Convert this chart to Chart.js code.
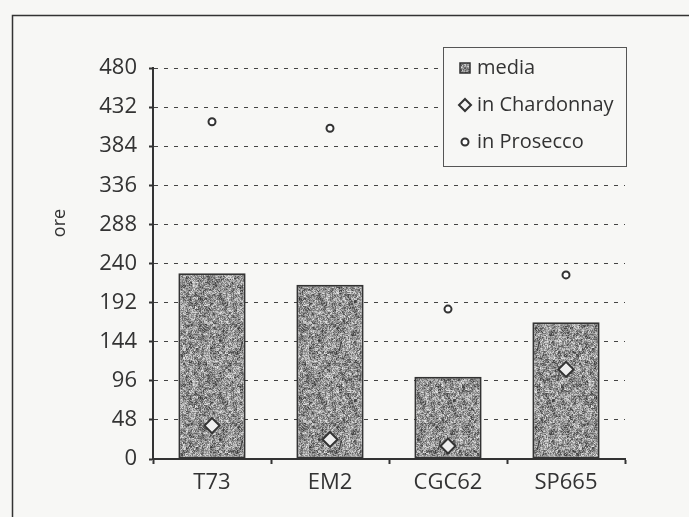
<!DOCTYPE html>
<html>
<head>
<meta charset="utf-8">
<script src="https://cdn.jsdelivr.net/npm/chart.js@4.4.1/dist/chart.umd.min.js"></script>
<style>
html, body { margin: 0; padding: 0; background: #f7f7f5; }
#contenitore { width: 689px; height: 517px; }
</style>
</head>
<body>
<div id="contenitore"><canvas id="graficoOre" width="689" height="517"></canvas></div>
<script>
// dati
const categorie = ['T73', 'EM2', 'CGC62', 'SP665'];
const media = [228, 214, 101, 168];
const inChardonnay = [41, 24, 16, 110];
const inProsecco = [414, 406, 184, 226];
const tickOre = [0, 48, 96, 144, 192, 240, 288, 336, 384, 432, 480];

const scuro = '#333';
const sfondo = '#f7f7f5';

function rumore(x, y, s) {
    let h = Math.imul(x, 374761393) + Math.imul(y, 668265263) + Math.imul(s, 2246822519);
    h = Math.imul(h ^ (h >>> 13), 1274126177);
    h = (h ^ (h >>> 16)) >>> 0;
    return h / 4294967295;
}

// trama grigia delle barre (rumore deterministico, non dati)
function trama() {
    const n = 99;
    const c = document.createElement('canvas');
    c.width = n; c.height = n;
    const g = c.getContext('2d');
    const img = g.createImageData(n, n);
    for (let y = 0; y < n; y++) {
        for (let x = 0; x < n; x++) {
            const fine = rumore(x, y, 1) - 0.5;
            const grosso = rumore(Math.floor(x / 3), Math.floor(y / 3), 2) - 0.5;
            const v = Math.round(145 + fine * 110 + grosso * 70);
            const i = (y * n + x) * 4;
            img.data[i] = v; img.data[i + 1] = v; img.data[i + 2] = v; img.data[i + 3] = 255;
        }
    }
    g.putImageData(img, 0, 0);
    return g.createPattern(c, 'repeat');
}

const ctx = document.getElementById('graficoOre').getContext('2d');
const riempimento = trama();

// cornice esterna, titolo asse e legenda nel riquadro
const extra = {
    id: 'extra',
    afterDraw(chart) {
        const c = chart.ctx;
        c.save();
        c.strokeStyle = scuro;
        c.lineWidth = 1.5;
        c.strokeRect(12.5, 15.5, 720, 600);

        c.save();
        c.translate(60, 223);
        c.rotate(-Math.PI / 2);
        c.fillStyle = scuro;
        c.font = '18px "Open Sans"';
        c.textAlign = 'center';
        c.textBaseline = 'middle';
        c.fillText('ore', 0, 0);
        c.restore();

        // legenda
        c.fillStyle = sfondo;
        c.fillRect(443, 47, 184, 120);
        c.strokeStyle = '#555';
        c.lineWidth = 1;
        c.strokeRect(443.5, 47.5, 183, 119);
        c.font = '20px "Open Sans"';
        c.textAlign = 'left';
        c.textBaseline = 'middle';
        const righe = [68, 105, 142];
        chart.data.datasets.forEach((ds, i) => {
            const y = righe[i];
            c.lineWidth = 2;
            c.strokeStyle = scuro;
            if (i === 0) {
                c.fillStyle = riempimento;
                c.fillRect(460, y - 5, 10, 10);
                c.lineWidth = 1.5;
                c.strokeRect(460, y - 5, 10, 10);
            } else if (i === 1) {
                c.fillStyle = '#f2f2f2';
                c.beginPath();
                c.moveTo(465, y - 6); c.lineTo(471, y); c.lineTo(465, y + 6); c.lineTo(459, y);
                c.closePath(); c.fill(); c.stroke();
            } else {
                c.fillStyle = '#fff';
                c.beginPath();
                c.arc(465, y, 3.5, 0, Math.PI * 2);
                c.fill(); c.stroke();
            }
            c.fillStyle = scuro;
            c.fillText(ds.label, 477, y);
        });
        c.restore();
    }
};

new Chart(ctx, {
    data: {
        labels: categorie,
        datasets: [{
            type: 'bar',
            label: 'media',
            data: media,
            backgroundColor: riempimento,
            borderColor: scuro,
            borderWidth: 2,
            borderSkipped: false,
            barPercentage: 0.57,
            categoryPercentage: 1,
            order: 2
        }, {
            type: 'line',
            label: 'in Chardonnay',
            data: inChardonnay,
            showLine: false,
            pointStyle: 'rectRot',
            pointRadius: 7.5,
            pointBorderWidth: 2,
            pointBorderColor: scuro,
            pointBackgroundColor: '#eee',
            order: 1
        }, {
            type: 'line',
            label: 'in Prosecco',
            data: inProsecco,
            showLine: false,
            pointStyle: 'circle',
            pointRadius: 3.5,
            pointBorderWidth: 2,
            pointBorderColor: scuro,
            pointBackgroundColor: '#fff',
            order: 0
        }]
    },
    options: {
        responsive: false,
        animation: false,
        devicePixelRatio: 1,
        layout: { padding: { top: 68, right: 64, left: 0, bottom: 0 } },
        plugins: {
            legend: { display: false },
            tooltip: { enabled: false }
        },
        scales: {
            x: {
                offset: true,
                grid: {
                    offset: true,
                    drawOnChartArea: false,
                    drawTicks: true,
                    tickLength: 5,
                    tickColor: scuro,
                    tickWidth: 2
                },
                border: { color: scuro, width: 2 },
                ticks: {
                    color: scuro,
                    padding: 6,
                    font: { family: 'Open Sans', size: 22 }
                },
                afterFit: (s) => { s.height = 58; }
            },
            y: {
                min: 0,
                max: 480,
                afterBuildTicks: (s) => { s.ticks = tickOre.map(v => ({ value: v })); },
                grid: {
                    color: '#444',
                    lineWidth: 1,
                    drawTicks: true,
                    tickLength: 4,
                    tickColor: scuro,
                    tickWidth: 2
                },
                border: { color: scuro, width: 2, dash: [4, 6] },
                ticks: {
                    color: scuro,
                    padding: 12,
                    font: { family: 'Open Sans', size: 22 }
                },
                afterFit: (s) => { s.width = 153; }
            }
        }
    },
    plugins: [extra]
});
</script>
</body>
</html>
